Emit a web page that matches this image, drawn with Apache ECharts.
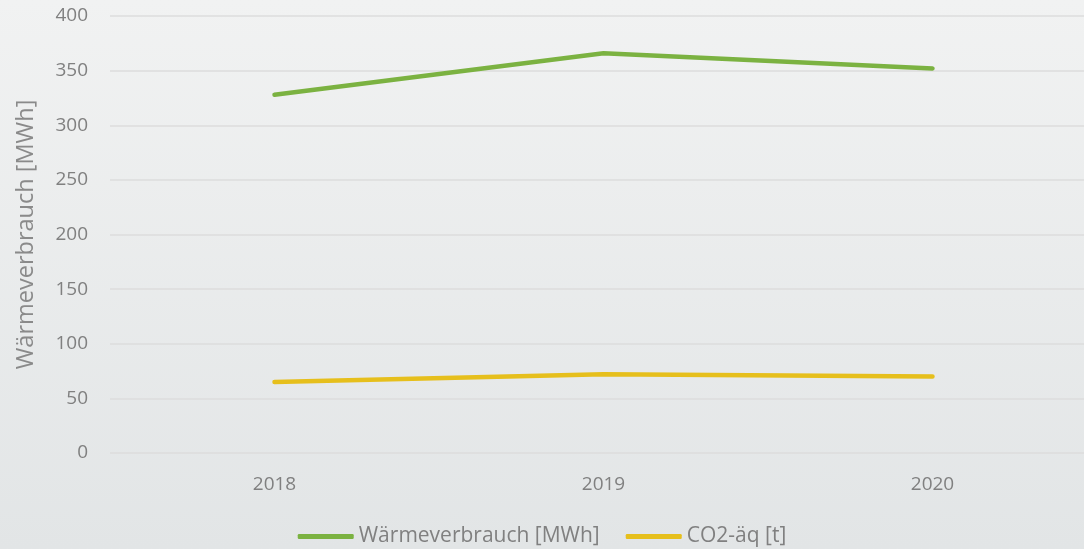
<!DOCTYPE html>
<html>
<head>
<meta charset="utf-8">
<script src="https://cdn.jsdelivr.net/npm/echarts@6/dist/echarts.min.js"></script>
<style>
    html, body { margin: 0; padding: 0; }
    #mains {
        width: 1084px; height: 549px;
        background: linear-gradient(to bottom, #f1f2f2 0%, #e2e5e6 100%);
    }
</style>
</head>
<body>
<div id="mains"></div>
<script>
    var years = ['2018', '2019', '2020'];
    var waerme = [328, 366, 352];
    var co2 = [65, 72, 70];

    var myChart = echarts.init(document.getElementById('mains'));
    var fontName = '"Open Sans", sans-serif';
    myChart.setOption({
        animation: false,
        color: ['#7bb241', '#e6bf1c'],
        textStyle: { fontFamily: fontName },
        grid: {
            left: 110,
            top: 16,
            width: 987,
            height: 437,
            outerBoundsMode: 'none'
        },
        legend: {
            top: 521,
            left: 'center',
            itemWidth: 56,
            itemHeight: 5,
            itemGap: 26,
            icon: 'roundRect',
            textStyle: { color: '#808080', fontSize: 21, fontFamily: fontName },
            data: ['Wärmeverbrauch [MWh]', 'CO2-äq [t]']
        },
        xAxis: {
            type: 'category',
            data: years,
            axisLine: { show: false },
            axisTick: { show: false },
            axisLabel: { color: '#808080', fontSize: 19, margin: 22 }
        },
        yAxis: {
            type: 'value',
            min: 0,
            max: 400,
            interval: 50,
            name: 'Wärmeverbrauch [MWh]',
            nameLocation: 'middle',
            nameGap: 72,
            nameTextStyle: { color: '#8a8a8a', fontSize: 23.5 },
            axisLabel: { color: '#808080', fontSize: 19, margin: 22 },
            splitLine: { lineStyle: { color: '#dcdddd', width: 1.5 } }
        },
        series: [
            {
                name: 'Wärmeverbrauch [MWh]',
                type: 'line',
                symbol: 'none',
                lineStyle: { width: 4.5, cap: 'round' },
                data: waerme
            },
            {
                name: 'CO2-äq [t]',
                type: 'line',
                symbol: 'none',
                lineStyle: { width: 4.5, cap: 'round' },
                data: co2
            }
        ]
    });
</script>
</body>
</html>
